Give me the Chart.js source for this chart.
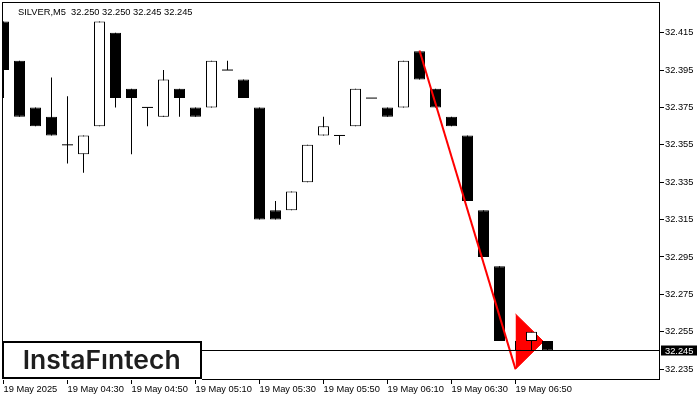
<!DOCTYPE html>
<html>
<head>
<meta charset="utf-8">
<script src="https://cdn.jsdelivr.net/npm/chart.js@4.4.1/dist/chart.umd.min.js"></script>
<style>
  html, body { margin: 0; padding: 0; background: #fff; }
  canvas { display: block; }
</style>
</head>
<body>
<canvas id="chart" width="700" height="400"></canvas>
<script>
const symbol = 'SILVER,M5';

// M5 candles, 19 May 2025
const times = ['04:10', '04:15', '04:20', '04:25', '04:30', '04:35', '04:40', '04:45', '04:50', '04:55',
               '05:00', '05:05', '05:10', '05:15', '05:20', '05:25', '05:30', '05:35', '05:40', '05:45',
               '05:50', '05:55', '06:00', '06:05', '06:10', '06:15', '06:20', '06:25', '06:30', '06:35',
               '06:40', '06:45', '06:50', '06:55', '07:00'];
const opens  = [32.421, 32.400, 32.375, 32.370, 32.355, 32.350, 32.365, 32.415, 32.385, 32.375,
                32.370, 32.385, 32.375, 32.375, 32.395, 32.390, 32.375, 32.320, 32.320, 32.335,
                32.360, 32.360, 32.365, 32.380, 32.375, 32.375, 32.405, 32.385, 32.370, 32.360,
                32.320, 32.290, 32.245, 32.250, 32.250];
const highs  = [32.421, 32.400, 32.375, 32.391, 32.381, 32.360, 32.421, 32.415, 32.385, 32.375,
                32.395, 32.385, 32.375, 32.400, 32.400, 32.390, 32.375, 32.325, 32.330, 32.355,
                32.370, 32.360, 32.385, 32.380, 32.375, 32.400, 32.405, 32.385, 32.370, 32.360,
                32.320, 32.290, 32.250, 32.255, 32.250];
const lows   = [32.380, 32.370, 32.365, 32.360, 32.345, 32.340, 32.365, 32.375, 32.350, 32.365,
                32.370, 32.370, 32.370, 32.375, 32.395, 32.380, 32.315, 32.315, 32.320, 32.335,
                32.360, 32.355, 32.365, 32.380, 32.370, 32.375, 32.390, 32.375, 32.365, 32.325,
                32.295, 32.250, 32.245, 32.245, 32.245];
const closes = [32.395, 32.370, 32.365, 32.360, 32.355, 32.360, 32.421, 32.380, 32.380, 32.375,
                32.390, 32.380, 32.370, 32.400, 32.395, 32.380, 32.315, 32.315, 32.330, 32.355,
                32.365, 32.360, 32.385, 32.380, 32.370, 32.400, 32.390, 32.375, 32.365, 32.325,
                32.295, 32.250, 32.245, 32.255, 32.245];

const xTickIdx = [0, 4, 8, 12, 16, 20, 24, 28, 32];
const xTickLabels = ['19 May 2025', '19 May 04:30', '19 May 04:50', '19 May 05:10', '19 May 05:30',
                     '19 May 05:50', '19 May 06:10', '19 May 06:30', '19 May 06:50'];
const yTicks = [32.235, 32.255, 32.275, 32.295, 32.315, 32.335, 32.355, 32.375, 32.395, 32.415];

// bearish pennant: flagpole and flag
const poleX = [26, 32];
const poleY = [32.4055, 32.235];
const pennantX = [32, 33.75];
const pennantTop = [32.2645, 32.2498];
const pennantBottom = [32.235, 32.2498];

const FONT = '"Liberation Sans", Arial, sans-serif';
Chart.defaults.font.family = FONT;
Chart.defaults.font.size = 9.3;
Chart.defaults.color = '#000';

const idx = times.map((t, i) => i);
const bodies = idx.filter(i => opens[i] !== closes[i]).map(i => ({ x: i, y: [opens[i], closes[i]] }));
const dojis = idx.filter(i => opens[i] === closes[i]).map(i => ({ x: i, y: opens[i] }));
const wicks = idx.filter(i => highs[i] > lows[i]).map(i => ({ x: i, y: [lows[i], highs[i]] }));

// no extra room for overhanging labels, the frame sits at fixed place
const noPad = s => { s.paddingLeft = 0; s.paddingRight = 0; s.paddingTop = 0; s.paddingBottom = 0; };

const mtChrome = {
    id: 'mtChrome',
    beforeDraw(chart) {
        const ctx = chart.ctx;
        ctx.save();
        ctx.fillStyle = '#fff';
        ctx.fillRect(0, 0, chart.width, chart.height);
        ctx.restore();
    },
    afterDatasetsDraw(chart) {
        const { ctx, chartArea: a, scales: { y } } = chart;
        const n = closes.length - 1;
        const last = closes[n];
        const py = Math.floor(y.getPixelForValue(last)) + 0.5;
        ctx.save();
        ctx.strokeStyle = '#000';
        ctx.lineWidth = 1;

        // current price line
        ctx.beginPath();
        ctx.moveTo(a.left, py);
        ctx.lineTo(a.right, py);
        ctx.stroke();

        // plot frame
        ctx.strokeRect(a.left + 0.5, a.top + 0.5, a.right - a.left - 1, a.bottom - a.top - 1);

        // price label on the axis
        ctx.fillStyle = '#000';
        ctx.fillRect(a.right + 1, py - 5, 36, 10);
        ctx.fillStyle = '#fff';
        ctx.font = '9.3px ' + FONT;
        ctx.textBaseline = 'middle';
        ctx.fillText(last.toFixed(3), a.right + 5, py + 0.5);

        // header
        ctx.fillStyle = '#000';
        ctx.textBaseline = 'alphabetic';
        const ohlc = [opens[n], highs[n], lows[n], closes[n]].map(v => v.toFixed(3)).join(' ');
        ctx.fillText(symbol + '  ' + ohlc, 18, 15);

        // logo
        ctx.fillStyle = '#fff';
        ctx.fillRect(2, 341, 200, 39);
        ctx.lineWidth = 2;
        ctx.strokeRect(3, 342, 198, 36);
        ctx.font = '600 26px Inter';
        const logo = 'InstaF\u0131ntech';
        const w = ctx.measureText(logo).width;
        ctx.translate(22.7, 369);
        ctx.scale(158 / w, 1);
        ctx.fillStyle = '#1e1e1e';
        ctx.fillText(logo, 0, 0);
        ctx.restore();
    }
};

new Chart(document.getElementById('chart'), {
    type: 'bar',
    data: {
        datasets: [{
            type: 'line',
            data: poleX.map((x, k) => ({ x: x, y: poleY[k] })),
            borderColor: '#ff0000',
            borderWidth: 2,
            pointRadius: 0,
            order: 0
        }, {
            data: bodies,
            backgroundColor: c => (c.raw && c.raw.y[1] > c.raw.y[0]) ? '#fff' : '#000',
            borderColor: '#000',
            borderWidth: 1,
            borderSkipped: false,
            inflateAmount: 0,
            barThickness: 11,
            grouped: false,
            order: 1
        }, {
            type: 'line',
            data: dojis,
            showLine: false,
            pointStyle: 'line',
            pointRadius: 5.5,
            pointBorderWidth: 1,
            borderColor: '#000',
            order: 1
        }, {
            data: wicks,
            backgroundColor: '#000',
            borderWidth: 0,
            inflateAmount: 0,
            barThickness: 1,
            grouped: false,
            order: 2
        }, {
            type: 'line',
            data: pennantX.map((x, k) => ({ x: x, y: pennantTop[k] })),
            borderColor: '#ff0000',
            borderWidth: 1,
            pointRadius: 0,
            fill: false,
            order: 3
        }, {
            type: 'line',
            data: pennantX.map((x, k) => ({ x: x, y: pennantBottom[k] })),
            borderColor: '#ff0000',
            backgroundColor: '#ff0000',
            borderWidth: 1,
            pointRadius: 0,
            fill: '-1',
            order: 3
        }]
    },
    options: {
        responsive: false,
        devicePixelRatio: 1,
        animation: false,
        layout: { autoPadding: false, padding: { left: 2, top: 2, right: 0, bottom: 0 } },
        plugins: {
            legend: { display: false },
            tooltip: { enabled: false }
        },
        scales: {
            x: {
                type: 'linear',
                min: -0.09375,
                max: 41.03125,
                offset: false,
                grid: { offset: false, drawOnChartArea: false, drawTicks: true, tickLength: 4, color: '#000' },
                border: { display: false },
                afterBuildTicks: s => { s.ticks = xTickIdx.map(v => ({ value: v })); },
                afterFit: s => { s.height = 20; noPad(s); },
                ticks: {
                    autoSkip: false,
                    maxRotation: 0,
                    align: 'start',
                    padding: 0,
                    callback: (v, i) => xTickLabels[i]
                }
            },
            y: {
                type: 'linear',
                position: 'right',
                min: 32.2292,
                max: 32.4314,
                beginAtZero: false,
                grid: { drawOnChartArea: false, drawTicks: true, tickLength: 4, color: '#000' },
                border: { display: false },
                afterBuildTicks: s => { s.ticks = yTicks.map(v => ({ value: v })); },
                afterFit: s => { s.width = 40; noPad(s); },
                ticks: {
                    padding: 1,
                    callback: v => v.toFixed(3)
                }
            }
        }
    },
    plugins: [mtChrome]
});
</script>
</body>
</html>
